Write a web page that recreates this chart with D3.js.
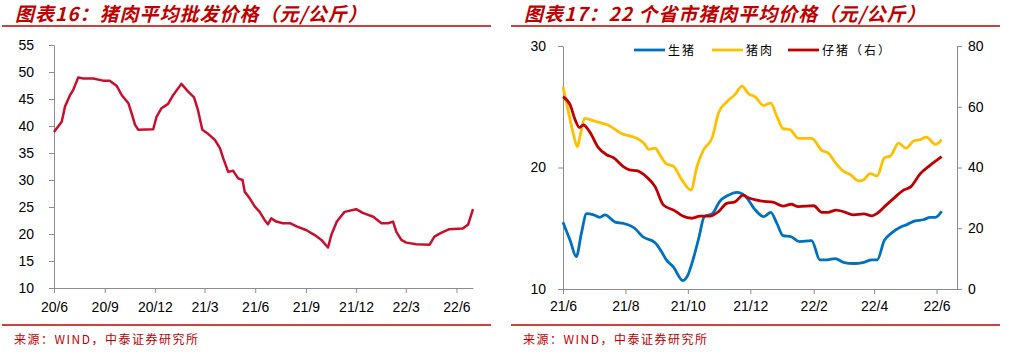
<!DOCTYPE html>
<html>
<head>
<meta charset="utf-8">
<script src="https://cdn.jsdelivr.net/npm/d3@7"></script>
<style>
  body { margin: 0; background: #fff; }
  svg { display: block; }
  .tick text { font-family: "Liberation Sans", Arial, sans-serif; font-size: 14px; fill: #000; }
  .domain, .tick line { stroke: #8c8c8c; }
</style>
</head>
<body>
<script>
// chart 16: wholesale pork price (yuan/kg)
const wholesaleDates = ["2020-06-01","2020-06-15","2020-06-21","2020-06-30","2020-07-06","2020-07-15","2020-07-24","2020-08-11","2020-08-29","2020-09-10","2020-09-23","2020-10-02","2020-10-14","2020-10-20","2020-10-26","2020-11-01","2020-11-28","2020-12-04","2020-12-13","2020-12-25","2021-01-03","2021-01-18","2021-01-30","2021-02-10","2021-02-17","2021-02-25","2021-03-08","2021-03-20","2021-03-29","2021-04-04","2021-04-13","2021-04-22","2021-05-01","2021-05-09","2021-05-13","2021-05-22","2021-05-31","2021-06-09","2021-06-18","2021-06-24","2021-06-30","2021-07-09","2021-07-21","2021-08-03","2021-08-15","2021-09-02","2021-09-17","2021-09-29","2021-10-11","2021-10-17","2021-10-27","2021-11-10","2021-12-01","2021-12-13","2022-01-01","2022-01-16","2022-01-28","2022-02-06","2022-02-12","2022-02-21","2022-03-02","2022-03-20","2022-04-13","2022-04-22","2022-05-04","2022-05-19","2022-06-12","2022-06-22","2022-07-01"];
const wholesalePrice = [38.9,40.8,43.6,45.7,46.7,49.0,48.8,48.8,48.4,48.4,47.4,45.7,44.2,42.3,40.2,39.3,39.4,41.7,43.3,44.1,45.7,47.8,46.4,45.3,43.0,39.3,38.5,37.4,35.9,34.0,31.5,31.7,30.3,30.0,27.8,26.6,25.1,24.1,22.6,21.8,22.9,22.3,22.0,22.0,21.4,20.7,19.8,18.9,17.5,19.8,22.3,24.1,24.6,23.9,23.2,22.0,22.0,22.3,20.4,18.9,18.4,18.1,18.0,19.5,20.2,20.9,21.0,21.7,24.6];
const wholesaleTicks = ["2020-06-01","2020-09-01","2020-12-01","2021-03-01","2021-06-01","2021-09-01","2021-12-01","2022-03-01","2022-06-01"];

// chart 17: 22-province averages
const hogDates = ["2021-06-01","2021-06-08","2021-06-14","2021-06-19","2021-06-24","2021-07-01","2021-07-07","2021-07-12","2021-07-22","2021-07-30","2021-08-10","2021-08-18","2021-08-30","2021-09-05","2021-09-10","2021-09-17","2021-09-26","2021-10-01","2021-10-06","2021-10-12","2021-10-17","2021-10-25","2021-11-01","2021-11-09","2021-11-18","2021-11-26","2021-12-06","2021-12-14","2021-12-21","2021-12-27","2022-01-02","2022-01-10","2022-01-18","2022-01-30","2022-02-07","2022-02-14","2022-02-22","2022-03-02","2022-03-12","2022-03-22","2022-03-30","2022-04-04","2022-04-11","2022-04-18","2022-04-27","2022-05-03","2022-05-11","2022-05-19","2022-05-26","2022-05-31","2022-06-06"];
const hogPrice = [15.5,14.0,12.66,14.6,16.2,16.1,15.9,16.1,15.5,15.4,15.0,14.3,13.8,13.1,12.4,11.8,10.7,11.15,12.4,14.3,15.95,16.2,17.2,17.7,17.96,17.65,16.5,15.95,16.3,15.4,14.4,14.3,13.9,13.98,12.4,12.4,12.5,12.2,12.1,12.2,12.4,12.4,14.0,14.6,15.1,15.3,15.6,15.7,15.9,15.9,16.4];

const porkDates = ["2021-06-01","2021-06-06","2021-06-11","2021-06-15","2021-06-18","2021-06-22","2021-06-29","2021-07-07","2021-07-15","2021-07-28","2021-08-12","2021-08-19","2021-08-24","2021-08-30","2021-09-04","2021-09-10","2021-09-17","2021-09-25","2021-10-04","2021-10-10","2021-10-16","2021-10-25","2021-10-31","2021-11-08","2021-11-16","2021-11-23","2021-11-29","2021-12-06","2021-12-14","2021-12-21","2021-12-27","2022-01-02","2022-01-09","2022-01-17","2022-01-30","2022-02-09","2022-02-15","2022-02-23","2022-03-02","2022-03-09","2022-03-17","2022-03-22","2022-03-28","2022-04-04","2022-04-11","2022-04-17","2022-04-25","2022-05-02","2022-05-10","2022-05-16","2022-05-22","2022-05-31","2022-06-06"];
const porkPrice = [26.65,24.7,22.8,21.7,22.7,24.05,23.9,23.7,23.5,22.8,22.4,22.0,21.5,21.6,21.0,20.3,20.1,19.0,18.15,20.1,21.4,22.5,24.5,25.4,26.0,26.7,26.1,25.8,25.1,25.3,24.2,23.2,23.1,22.4,22.4,21.4,21.2,20.3,19.7,19.4,18.9,19.0,19.5,19.3,20.8,20.95,22.0,21.6,22.2,22.3,22.5,21.9,22.3];

const pigletDates = ["2021-06-01","2021-06-08","2021-06-13","2021-06-17","2021-06-21","2021-06-27","2021-07-05","2021-07-14","2021-07-20","2021-07-30","2021-08-05","2021-08-12","2021-08-22","2021-08-30","2021-09-07","2021-09-18","2021-09-26","2021-10-05","2021-10-13","2021-10-23","2021-10-31","2021-11-08","2021-11-16","2021-11-24","2021-11-28","2021-12-11","2021-12-24","2022-01-02","2022-01-10","2022-01-17","2022-02-01","2022-02-09","2022-02-15","2022-02-23","2022-03-04","2022-03-12","2022-03-22","2022-03-30","2022-04-04","2022-04-13","2022-04-21","2022-04-29","2022-05-07","2022-05-16","2022-05-26","2022-06-06"];
const pigletPrice = [63.3,60.6,55.6,53.2,54.0,51.8,46.8,44.1,43.3,40.3,39.2,38.95,36.8,33.7,27.7,25.8,24.0,23.3,24.0,24.0,25.5,28.2,28.7,30.9,30.2,29.0,28.5,27.3,27.9,27.1,27.4,25.25,25.25,26.0,25.25,24.4,24.7,24.1,24.9,27.7,30.1,32.4,33.7,37.9,40.8,43.6];
const provinceTicks = ["2021-06-01","2021-08-01","2021-10-01","2021-12-01","2022-02-01","2022-04-01","2022-06-01"];

const seriesNames = ["生猪", "猪肉", "仔猪（右）"];
const seriesColors = ["#0070c0", "#ffc000", "#c00000"];

const parse = d3.timeParse("%Y-%m-%d");
const fmtTick = d3.timeFormat("%y/%-m");
const pair = (ds, vs) => ds.map((d, i) => ({ date: parse(d), value: vs[i] }));

const svg = d3.select("body").append("svg")
    .attr("width", 1011)
    .attr("height", 353);

svg.append("rect").attr("width", 1011).attr("height", 353).attr("fill", "#fff");

// titles, rules and source notes
const titles = [
    { x: 15, text: "图表16：猪肉平均批发价格（元/公斤）", x0: 2, x1: 491 },
    { x: 524, text: "图表17：22 个省市猪肉平均价格（元/公斤）", x0: 511, x1: 1000 }
];
titles.forEach(t => {
    svg.append("text")
        .attr("x", t.x).attr("y", 21)
        .attr("font-family", "'Noto Sans CJK SC', sans-serif")
        .attr("font-size", 19).attr("font-weight", "bold").attr("font-style", "italic")
        .attr("letter-spacing", 1)
        .attr("fill", "#c00000")
        .text(t.text);
    svg.append("line").attr("x1", t.x0).attr("x2", t.x1).attr("y1", 26).attr("y2", 26)
        .attr("stroke", "#c00000").attr("stroke-width", 1.5);
    svg.append("line").attr("x1", t.x0).attr("x2", t.x1).attr("y1", 325).attr("y2", 325)
        .attr("stroke", "#c00000").attr("stroke-width", 1.5);
    svg.append("text")
        .attr("x", t.x0 + 12).attr("y", 344)
        .attr("font-family", "'Noto Sans CJK SC', sans-serif")
        .attr("font-size", 12).attr("letter-spacing", 1.5)
        .attr("fill", "#c00000")
        .text("来源：WIND，中泰证券研究所");
});

// ---- left chart ----
const x1 = d3.scaleTime()
    .domain([parse("2020-06-01"), parse("2022-07-01")])
    .range([54, 473]);
const y1 = d3.scaleLinear().domain([10, 55]).range([288, 45]);

svg.append("g")
    .attr("transform", "translate(54,0)")
    .call(d3.axisLeft(y1).tickValues(d3.range(10, 56, 5)).tickSize(5).tickSizeOuter(0).tickPadding(15));

svg.append("g")
    .attr("transform", "translate(0,288)")
    .call(d3.axisBottom(x1).tickValues(wholesaleTicks.map(parse)).tickFormat(fmtTick)
        .tickSize(5).tickSizeOuter(0).tickPadding(9));

svg.append("path")
    .datum(pair(wholesaleDates, wholesalePrice))
    .attr("fill", "none")
    .attr("stroke", "#c8102e")
    .attr("stroke-width", 2.5)
    .attr("stroke-linejoin", "round")
    .attr("d", d3.line().x(d => x1(d.date)).y(d => y1(d.value)));

// ---- right chart ----
const x2 = d3.scaleTime()
    .domain([parse("2021-06-01"), parse("2022-06-21")])
    .range([563, 957]);
const yL = d3.scaleLinear().domain([10, 30]).range([289, 46]);
const yR = d3.scaleLinear().domain([0, 80]).range([289, 46]);

svg.append("g")
    .attr("transform", "translate(563,0)")
    .call(d3.axisLeft(yL).tickValues([10, 20, 30]).tickSize(5).tickSizeOuter(0).tickPadding(12));

svg.append("g")
    .attr("transform", "translate(957,0)")
    .call(d3.axisRight(yR).tickValues([0, 20, 40, 60, 80]).tickSize(5).tickSizeOuter(0).tickPadding(6));

svg.append("g")
    .attr("transform", "translate(0,289)")
    .call(d3.axisBottom(x2).tickValues(provinceTicks.map(parse)).tickFormat(fmtTick)
        .tickSize(5).tickSizeOuter(0).tickPadding(7));

const lineL = d3.line().curve(d3.curveMonotoneX).x(d => x2(d.date)).y(d => yL(d.value));
const lineR = d3.line().curve(d3.curveMonotoneX).x(d => x2(d.date)).y(d => yR(d.value));

[
    { data: pair(porkDates, porkPrice), line: lineL, color: seriesColors[1] },
    { data: pair(hogDates, hogPrice), line: lineL, color: seriesColors[0] },
    { data: pair(pigletDates, pigletPrice), line: lineR, color: seriesColors[2] }
].forEach(s => {
    svg.append("path")
        .datum(s.data)
        .attr("fill", "none")
        .attr("stroke", s.color)
        .attr("stroke-width", 2.8)
        .attr("d", s.line);
});

// legend
const legendX = [634, 712, 788];
const legend = svg.append("g").selectAll("g")
    .data(seriesNames)
    .enter().append("g")
    .attr("transform", (d, i) => `translate(${legendX[i]},50)`);

legend.append("line")
    .attr("x1", 0).attr("x2", 31).attr("y1", 0).attr("y2", 0)
    .attr("stroke", (d, i) => seriesColors[i])
    .attr("stroke-width", 2.8);

legend.append("text")
    .attr("x", 34).attr("y", 4.5)
    .attr("font-family", "'Noto Sans CJK SC', sans-serif")
    .attr("font-size", 12).attr("letter-spacing", 2)
    .attr("fill", "#000")
    .text(d => d);
</script>
</body>
</html>
